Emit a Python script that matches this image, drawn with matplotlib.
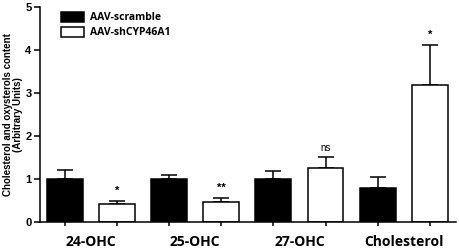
import matplotlib
matplotlib.use('Agg')
import matplotlib.pyplot as plt
import numpy as np
from matplotlib.patches import Patch

# 数据
groups = ['24-OHC', '25-OHC', '27-OHC', 'Cholesterol']
series = ['AAV-scramble', 'AAV-shCYP46A1']
scramble = [1.0, 1.0, 1.0, 0.8]
scramble_err = [0.21, 0.10, 0.20, 0.24]
sh = [0.43, 0.47, 1.25, 3.19]
sh_err = [0.06, 0.08, 0.26, 0.94]
marks = ['*', '**', 'ns', '*']

plt.rcParams['font.family'] = ['Liberation Sans', 'DejaVu Sans']

fig = plt.figure(figsize=(4.59, 2.5), dpi=100)
ax = fig.add_axes([0.087, 0.112, 0.906, 0.858])

pos = np.arange(len(groups)) * 2
w = 0.69
lw = 1.1
ax.bar(pos, scramble, w, color='black', edgecolor='black', linewidth=lw, zorder=2)
ax.bar(pos + 1, sh, w, color='white', edgecolor='black', linewidth=lw, zorder=2)
ax.errorbar(pos, scramble, yerr=[np.zeros(4), scramble_err], fmt='none',
            ecolor='black', elinewidth=lw, capsize=6, capthick=lw, zorder=1)
ax.errorbar(pos + 1, sh, yerr=[np.zeros(4), sh_err], fmt='none',
            ecolor='black', elinewidth=lw, capsize=6, capthick=lw, zorder=1)

for x, v, e, m in zip(pos + 1, sh, sh_err, marks):
    off = 0.12 if m != 'ns' else 0.1
    ax.text(x, v + e + off, m, ha='center', va='bottom',
            fontsize=7 if m == 'ns' else 8, fontweight='bold' if m != 'ns' else 'normal')

ax.set_xlim(-0.48, 7.5)
ax.set_ylim(0, 5)
ax.set_yticks(range(6))
ax.set_yticklabels([str(i) for i in range(6)], fontsize=8, fontweight='bold')
ax.set_xticks(np.arange(8))
ax.set_xticklabels([])
ax.tick_params(axis='x', length=3, width=lw)
ax.tick_params(axis='y', length=4, width=lw, pad=2)
for i, g in enumerate(groups):
    ax.text(pos[i] + 0.5, -0.3, g, ha='center', va='top', fontsize=10,
            fontweight='bold', family=['Open Sans', 'DejaVu Sans'],
            transform=ax.transData)

ax.spines['top'].set_visible(False)
ax.spines['right'].set_visible(False)
ax.spines['left'].set_linewidth(lw)
ax.spines['bottom'].set_linewidth(lw)

ax.set_ylabel('Cholesterol and oxysterols content\n(Arbitrary Units)',
              fontsize=7, fontweight='bold', labelpad=2, linespacing=1.0)

handles = [Patch(facecolor='black', edgecolor='black', linewidth=lw),
           Patch(facecolor='white', edgecolor='black', linewidth=lw)]
ax.legend(handles, series, loc='upper left', bbox_to_anchor=(0.04, 1.0),
          frameon=False, prop={'family': 'Open Sans', 'weight': 'bold', 'size': 7.5},
          handlelength=2.2, handleheight=1.1, handletextpad=0.6, labelspacing=0.35,
          borderaxespad=0)

fig.savefig('out.png', dpi=100)
